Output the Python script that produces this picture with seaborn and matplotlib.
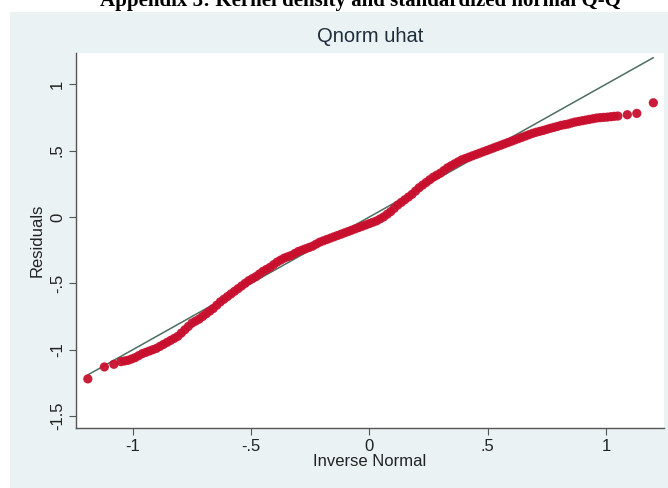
import matplotlib
matplotlib.use("Agg")
import matplotlib.pyplot as plt
import seaborn as sns
import pandas as pd
from matplotlib.patches import Rectangle

# === DATA ===
inv_normal = [
    -1.19, -1.12, -1.08,
    -1.050, -1.035, -1.020, -1.005, -0.990, -0.975, -0.960, -0.945, -0.930, -0.915,
    -0.900, -0.885, -0.870, -0.855, -0.840, -0.825, -0.810, -0.795, -0.780, -0.765,
    -0.750, -0.735, -0.720, -0.705, -0.690, -0.675, -0.660, -0.645, -0.630, -0.615,
    -0.600, -0.585, -0.570, -0.555, -0.540, -0.525, -0.510, -0.495, -0.480, -0.465,
    -0.450, -0.435, -0.420, -0.405, -0.390, -0.375, -0.360, -0.345, -0.330, -0.315,
    -0.300, -0.285, -0.270, -0.255, -0.240, -0.225, -0.210, -0.195, -0.180, -0.165,
    -0.150, -0.135, -0.120, -0.105, -0.090, -0.075, -0.060, -0.045, -0.030, -0.015,
    0.000, 0.015, 0.030, 0.045, 0.060, 0.075, 0.090, 0.105, 0.120, 0.135,
    0.150, 0.165, 0.180, 0.195, 0.210, 0.225, 0.240, 0.255, 0.270, 0.285,
    0.300, 0.315, 0.330, 0.345, 0.360, 0.375, 0.390, 0.405, 0.420, 0.435,
    0.450, 0.465, 0.480, 0.495, 0.510, 0.525, 0.540, 0.555, 0.570, 0.585,
    0.600, 0.615, 0.630, 0.645, 0.660, 0.675, 0.690, 0.705, 0.720, 0.735,
    0.750, 0.765, 0.780, 0.795, 0.810, 0.825, 0.840, 0.855, 0.870, 0.885,
    0.900, 0.915, 0.930, 0.945, 0.960, 0.975, 0.990, 1.005, 1.020, 1.035,
    1.050,
    1.09, 1.13, 1.20,
]
residuals = [
    -1.22, -1.13, -1.11,
    -1.090, -1.085, -1.080, -1.070, -1.060, -1.045, -1.030, -1.020, -1.010, -1.000,
    -0.990, -0.975, -0.960, -0.945, -0.930, -0.915, -0.900, -0.875, -0.850, -0.825,
    -0.800, -0.785, -0.770, -0.750, -0.730, -0.710, -0.690, -0.665, -0.640, -0.620,
    -0.600, -0.580, -0.560, -0.540, -0.520, -0.500, -0.480, -0.465, -0.450, -0.430,
    -0.410, -0.395, -0.380, -0.360, -0.340, -0.325, -0.310, -0.300, -0.290, -0.275,
    -0.260, -0.250, -0.240, -0.230, -0.220, -0.205, -0.190, -0.180, -0.170, -0.160,
    -0.150, -0.140, -0.130, -0.120, -0.110, -0.100, -0.090, -0.080, -0.070, -0.060,
    -0.050, -0.040, -0.030, -0.015, 0.000, 0.020, 0.040, 0.065, 0.090, 0.110,
    0.130, 0.150, 0.170, 0.195, 0.220, 0.240, 0.260, 0.280, 0.300, 0.315,
    0.330, 0.350, 0.370, 0.385, 0.400, 0.415, 0.430, 0.440, 0.450, 0.460,
    0.470, 0.480, 0.490, 0.500, 0.510, 0.520, 0.530, 0.540, 0.550, 0.560,
    0.570, 0.580, 0.590, 0.600, 0.610, 0.620, 0.630, 0.638, 0.645, 0.652,
    0.660, 0.668, 0.675, 0.682, 0.690, 0.695, 0.700, 0.708, 0.715, 0.720,
    0.725, 0.730, 0.735, 0.740, 0.745, 0.748, 0.750, 0.752, 0.755, 0.758,
    0.760,
    0.77, 0.78, 0.86,
]
ref_line_x = [-1.19, 1.20]
ref_line_y = [-1.19, 1.20]

x_ticks = [-1, -0.5, 0, 0.5, 1]
x_labels = ["-1", "-.5", "0", ".5", "1"]
y_ticks = [-1.5, -1, -0.5, 0, 0.5, 1]
y_labels = ["-1.5", "-1", "-.5", "0", ".5", "1"]

df = pd.DataFrame({"Inverse Normal": inv_normal, "Residuals": residuals})

sns.set_theme(style="white")
plt.rcParams["font.family"] = ["Liberation Sans", "DejaVu Sans"]

W, H = 668, 488
fig = plt.figure(figsize=(W / 100, H / 100), dpi=100)
fig.patch.set_facecolor("white")

# stata-like graph region
fig.add_artist(Rectangle((10 / W, 0), 1 - 10 / W, 1 - 12 / H, transform=fig.transFigure,
                         facecolor="#eaf2f3", edgecolor="none", zorder=0))

# caption of the page above the chart, cut by the crop just like in the source
fig.text(100 / W, 1 - 6 / H, "Appendix 3: Kernel density and standardized normal Q-Q",
         ha="left", va="baseline", fontsize=15, fontweight="bold",
         family="Liberation Serif", color="black")

ax = fig.add_axes([76 / W, 1 - 428 / H, (664 - 76) / W, (428 - 53) / H])
ax.set_facecolor("white")

sns.lineplot(x=ref_line_x, y=ref_line_y, ax=ax, color="#4d6e60", linewidth=1.1, zorder=2)
sns.scatterplot(data=df, x="Inverse Normal", y="Residuals", ax=ax, color="#c8102e",
                s=44, edgecolor="none", alpha=0.95, zorder=3)

ax.set_xlim(-1.24, 1.245)
ax.set_ylim(-1.59, 1.235)
ax.set_xticks(x_ticks)
ax.set_xticklabels(x_labels)
ax.set_yticks(y_ticks)
ax.set_yticklabels(y_labels, rotation=90, va="center")

for side in ["top", "right"]:
    ax.spines[side].set_visible(False)
for side in ["left", "bottom"]:
    ax.spines[side].set_color("#555555")
    ax.spines[side].set_linewidth(1.0)

ax.tick_params(axis="both", which="major", direction="out", length=5, width=0.8,
               color="#555555", labelsize=12, labelcolor="#222222", pad=3,
               bottom=True, left=True)

ax.set_xlabel("Inverse Normal", fontsize=12, color="#222222", labelpad=0)
ax.set_ylabel("Residuals", fontsize=12, color="#222222", labelpad=4)
ax.set_title("Qnorm uhat", fontsize=14.5, color="#1e2d3b", pad=8)

fig.savefig("out.png", dpi=100)
